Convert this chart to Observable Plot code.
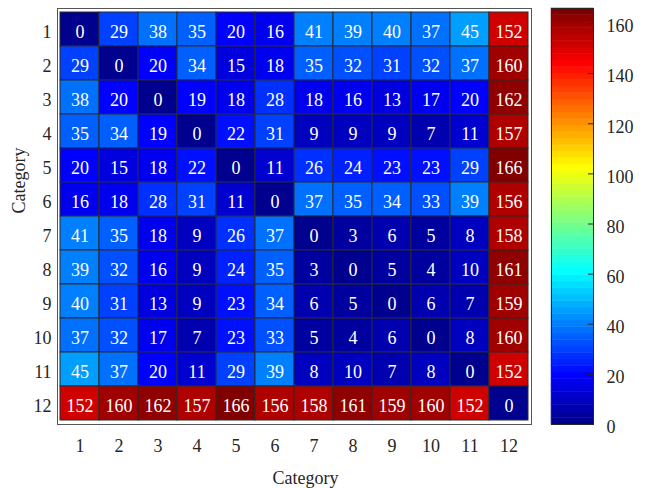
<!DOCTYPE html>
<html><head><meta charset="utf-8">
<script src="https://cdn.jsdelivr.net/npm/d3@7"></script>
<script src="https://cdn.jsdelivr.net/npm/@observablehq/plot@0.6"></script>
<style>
body{margin:0;background:#fff}
#c{position:relative;width:650px;height:488px}
#c svg{position:absolute;left:0;top:0}
#c svg, #c svg text, #c svg g{font-family:"Liberation Serif","Times New Roman",serif !important;font-variant:normal !important;font-variant-numeric:normal !important}
</style>
</head><body><div id="c"></div>
<script>
const categories = [1,2,3,4,5,6,7,8,9,10,11,12];
const values = [
  [0,29,38,35,20,16,41,39,40,37,45,152],
  [29,0,20,34,15,18,35,32,31,32,37,160],
  [38,20,0,19,18,28,18,16,13,17,20,162],
  [35,34,19,0,22,31,9,9,9,7,11,157],
  [20,15,18,22,0,11,26,24,23,23,29,166],
  [16,18,28,31,11,0,37,35,34,33,39,156],
  [41,35,18,9,26,37,0,3,6,5,8,158],
  [39,32,16,9,24,35,3,0,5,4,10,161],
  [40,31,13,9,23,34,6,5,0,6,7,159],
  [37,32,17,7,23,33,5,4,6,0,8,160],
  [45,37,20,11,29,39,8,10,7,8,0,152],
  [152,160,162,157,166,156,158,161,159,160,152,0]
];
const colorMax = 166;
const colorTicks = [0,20,40,60,80,100,120,140,160];
const xLabel = "Category";
const yLabel = "Category";

// MATLAB jet(m) colormap
function jetColormap(m){
  const n = Math.ceil(m/4);
  const u = [];
  for (let i=1;i<=n;i++) u.push(i/n);
  for (let i=1;i<n;i++) u.push(1);
  for (let i=n;i>=1;i--) u.push(i/n);
  const g0 = Math.ceil(n/2) - (m%4===1?1:0);
  const J = Array.from({length:m},()=>[0,0,0]);
  u.forEach((v,i)=>{
    const g = g0 + i + 1, r = g + n, b = g - n;
    if (r>=1 && r<=m) J[r-1][0]=v;
    if (g>=1 && g<=m) J[g-1][1]=v;
    if (b>=1 && b<=m) J[b-1][2]=v;
  });
  return J.map(([r,g,b])=>d3.rgb(r*255,g*255,b*255).formatHex());
}
const nColors = 64;
const jetColors = jetColormap(nColors);
const thresholds = d3.range(1, nColors).map(k => k*colorMax/nColors);
const colorScale = {type:"threshold", domain: thresholds, range: jetColors};

const cells = [];
values.forEach((row,i)=>row.forEach((v,j)=>cells.push({row:categories[i], col:categories[j], value:v})));
const bands = d3.range(nColors).map(k=>({y1:k*colorMax/nColors, y2:(k+1)*colorMax/nColors, v:(k+0.5)*colorMax/nColors}));

const ff = "'Liberation Serif', 'Times New Roman', serif";
const fs = 18;
const font = {fontFamily:ff, fontSize:fs+"px", color:"#262626", background:"transparent"};

const main = Plot.plot({
  width:650, height:488,
  marginLeft:57, marginRight:119, marginTop:8, marginBottom:64,
  style: font,
  x:{type:"band", domain:categories, padding:0},
  y:{type:"band", domain:categories, padding:0},
  color: colorScale,
  marks:[
    Plot.cell(cells, {x:"col", y:"row", fill:"value", stroke:"#2b2b2b", strokeWidth:1, inset:0}),
    Plot.text(cells, {x:"col", y:"row", text:d=>String(d.value), fill:"white", fontSize:fs, fontFamily:ff, dy:3}),
    Plot.frame({stroke:"#555"}),
    Plot.axisX({tickSize:0, tickPadding:15, label:null, fontFamily:ff, fontSize:fs}),
    Plot.axisY({tickSize:0, tickPadding:6, label:null, dy:3, fontFamily:ff, fontSize:fs}),
    Plot.text([xLabel], {frameAnchor:"bottom", text:d=>d, dy:59, dx:11, fontSize:fs, fontFamily:ff, fill:"#262626"}),
    Plot.text([yLabel], {frameAnchor:"left", text:d=>d, rotate:-90, dx:-38, dy:-3, fontSize:fs, fontFamily:ff, fill:"#262626"})
  ]
});

const bar = Plot.plot({
  width:650, height:488,
  marginLeft:551, marginRight:57, marginTop:8, marginBottom:64,
  style: font,
  x:{domain:[0,1], axis:null},
  y:{domain:[0,colorMax]},
  color: colorScale,
  marks:[
    Plot.rect(bands, {x1:0, x2:1, y1:"y1", y2:"y2", fill:"v", stroke:"v", strokeWidth:0.5}),
    Plot.ruleY(colorTicks, {x1:0.88, x2:1, stroke:"#262626"}),
    Plot.frame({stroke:"#262626"}),
    Plot.axisY({anchor:"right", ticks:colorTicks, tickSize:0, tickPadding:13, dy:3, label:null, fontFamily:ff, fontSize:fs})
  ]
});

document.getElementById("c").append(main, bar);
</script>
</body></html>
